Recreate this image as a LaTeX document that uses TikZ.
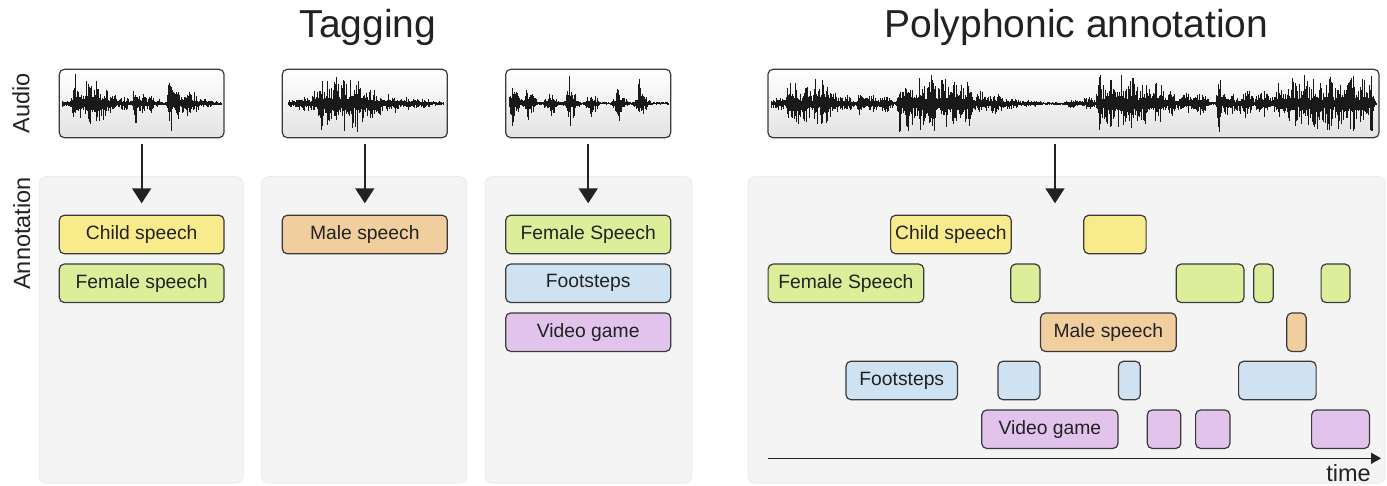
\documentclass[tikz,border=0pt]{standalone}
\usepackage{fontspec}
\setmainfont{Liberation Sans}
\usetikzlibrary{arrows.meta}
\definecolor{txt}{HTML}{222222}
\definecolor{bord}{HTML}{3A3A3A}
\definecolor{panelc}{HTML}{F4F4F4}
\definecolor{panelb}{HTML}{ECECEC}
\definecolor{cy}{HTML}{F7EB8C}
\definecolor{cg}{HTML}{DDEE9B}
\definecolor{co}{HTML}{F1CE9E}
\definecolor{cb}{HTML}{CFE2F2}
\definecolor{cp}{HTML}{E1C3EC}
\tikzset{
  panel/.style={fill=panelc, draw=panelb, line width=1pt, rounded corners=7pt, inner sep=0pt},
  wbox/.style={draw=bord, line width=1.2pt, rounded corners=5pt, top color=white, bottom color=black!11, inner sep=0pt, minimum height=68.4pt},
  lab/.style={draw=bord, line width=1.2pt, rounded corners=5pt, inner sep=0pt, minimum height=38.5pt, text=txt, font=\fontsize{19.3}{22}\selectfont},
  arr/.style={draw=txt, line width=1.7pt, -{Triangle[width=19pt,length=15pt]}},
  axisarr/.style={draw=txt, line width=1.5pt, -{Triangle[width=11pt,length=10pt]}},
  wav/.style={draw=black!90, line width=0.9pt},
  ttl/.style={text=txt, font=\fontsize{39}{42}\selectfont, inner sep=0pt},
  side/.style={text=txt, font=\fontsize{23.5}{26}\selectfont, inner sep=0pt, rotate=90},
}
\newcommand\mywave[5]{%
  \pgfmathsetseed{#4}%
  \foreach \xx in {#1,...,#2}{%
    \gdef\envv{1.0}%
    \foreach \cc/\aa/\ww in {#5}{%
      \pgfmathparse{max(\envv,\aa*exp(0-pow(min(abs((\xx-\cc)/(1.3*\ww)),7),2)))}%
      \xdef\envv{\pgfmathresult}}%
    \pgfmathsetmacro\ra{rnd}\pgfmathsetmacro\rb{rnd}%
    \pgfmathsetmacro\up{min(29,1.15*\envv*(0.2+0.8*\ra*sqrt(\ra))+0.5)}%
    \pgfmathsetmacro\dn{min(29,1.15*\envv*(0.2+0.8*\rb*sqrt(\rb))+0.5)}%
    \draw[wav] (\xx,#3-\up) -- (\xx,#3+\dn);
  }}
\begin{document}
\begin{tikzpicture}[x=1pt,y=-1pt]
\useasboundingbox (0,0) rectangle (1387,486);
% titles
\node[ttl, anchor=base] (t1) at (368,37.5) {Tagging};
\node[ttl, anchor=base] (t2) at (1076.5,37.5) {Polyphonic annotation};
\node[side] (sa) at (21,103) {Audio};
\node[side] (sb) at (21.7,233.5) {Annotation};
% panels
\node[panel, minimum width=203.7pt, minimum height=306.3pt] (p1) at (141.15,329.85) {};
\node[panel, minimum width=205pt, minimum height=306.3pt] (p2) at (364.2,329.85) {};
\node[panel, minimum width=206.7pt, minimum height=306.3pt] (p3) at (588.35,329.85) {};
\node[panel, minimum width=637pt, minimum height=306.3pt] (p4) at (1066.5,329.85) {};
% wave boxes
\node[wbox, minimum width=164.7pt] (w1) at (141.65,103.5) {};
\node[wbox, minimum width=165pt] (w2) at (364.8,103.5) {};
\node[wbox, minimum width=165pt] (w3) at (588.2,103.5) {};
\node[wbox, minimum width=611pt] (w4) at (1073.5,103.5) {};
% waveforms
\mywave{62}{221}{103.5}{11}{66/3/8, 75/27/2.5, 80/22/2, 88/26/4, 96/25/3.5, 104/18/4, 112/13/3, 123/6/6, 135/24/2, 142/11/4, 150/8/4, 157/6/2, 170/30/2, 176/17/4, 186/14/5, 194/10/4, 205/4/8, 215/2/6}
\mywave{288}{443}{103.5}{23}{292/3/8, 305/7/8, 316/12/5, 321/28/2, 328/22/4, 336/25/4, 344/24/4, 351/26/4, 357/28/3, 364/20/4, 372/14/4, 380/10/4, 388/8/5, 395/9/3, 405/6/6, 415/5/6, 425/4/6, 435/2/6}
\mywave{509}{668}{103.5}{37}{512/28/1.5, 514/12/5, 527/24/1.5, 529/11/5, 550/18/1.5, 551/11/5, 569/30/1.5, 571/13/5, 591/16/1.5, 592/9/5, 618/20/1.5, 619/11/5, 639/24/1.5, 641/12/5}
\mywave{771}{1376}{103.5}{5}{778/6/8, 790/24/3, 796/20/4, 806/18/5, 816/25/3, 822/20/4, 827/25/3, 833/12/4, 845/8/6, 860/22/2, 870/9/6, 885/8/6, 899/30/2, 908/24/6, 920/24/6, 932/26/6, 944/24/6, 956/25/6, 968/20/6, 980/12/6, 995/9/8, 1010/5/8, 1030/3/10, 1072/4/6, 1088/6/6, 1099/30/2, 1108/25/6, 1120/26/6, 1132/24/6, 1144/24/6, 1158/20/6, 1170/12/5, 1185/9/8, 1200/10/6, 1219/28/2, 1228/12/6, 1245/12/8, 1262/13/6, 1280/20/6, 1292/23/6, 1304/25/6, 1316/24/6, 1328/25/6, 1340/24/6, 1352/25/6, 1364/24/5, 1371/30/2}
% arrows
\coordinate (e1) at (141.65,203.3);
\coordinate (e2) at (364.8,203.3);
\coordinate (e3) at (588.2,203.3);
\coordinate (e4) at (1055,203.3);
\draw[arr] ([yshift=-6pt]w1.south) -- (e1);
\draw[arr] ([yshift=-6pt]w2.south) -- (e2);
\draw[arr] ([yshift=-6pt]w3.south) -- (e3);
\draw[arr] ([yshift=-6pt]w4.south -| e4) -- (e4);
% tagging labels
\node[lab, fill=cy, minimum width=164.7pt] (l1a) at (141.65,234.5) {Child speech};
\node[lab, fill=cg, minimum width=164.7pt] (l1b) at (141.65,283.3) {Female speech};
\node[lab, fill=co, minimum width=165pt] (l2a) at (364.8,234.5) {Male speech};
\node[lab, fill=cg, minimum width=165pt] (l3a) at (588.2,234.5) {Female Speech};
\node[lab, fill=cb, minimum width=165pt] (l3b) at (588.2,283.3) {Footsteps};
\node[lab, fill=cp, minimum width=165pt] (l3c) at (588.2,332.2) {Video game};
% polyphonic
\node[lab, fill=cy, minimum width=120.6pt] (r1a) at (950.9,234.5) {Child speech};
\node[lab, fill=cy, minimum width=62.3pt] (r1b) at (1114.95,234.5) {};
\node[lab, fill=cg, minimum width=155.6pt] (r2a) at (845.9,283.3) {Female Speech};
\node[lab, fill=cg, minimum width=29.3pt] (r2b) at (1025.35,283.3) {};
\node[lab, fill=cg, minimum width=67.7pt] (r2c) at (1210.05,283.3) {};
\node[lab, fill=cg, minimum width=19.4pt] (r2d) at (1263.5,283.3) {};
\node[lab, fill=cg, minimum width=28.9pt] (r2e) at (1335.55,283.3) {};
\node[lab, fill=co, minimum width=135.7pt] (r3a) at (1108.35,332.2) {Male speech};
\node[lab, fill=co, minimum width=19.4pt] (r3b) at (1296.5,332.2) {};
\node[lab, fill=cb, minimum width=111.5pt] (r4a) at (901.75,380.5) {Footsteps};
\node[lab, fill=cb, minimum width=42pt] (r4b) at (1019,380.5) {};
\node[lab, fill=cb, minimum width=21.8pt] (r4c) at (1129.4,380.5) {};
\node[lab, fill=cb, minimum width=77.5pt] (r4d) at (1277.35,380.5) {};
\node[lab, fill=cp, minimum width=136.2pt] (r5a) at (1049.9,429.2) {Video game};
\node[lab, fill=cp, minimum width=33.5pt] (r5b) at (1164.05,429.2) {};
\node[lab, fill=cp, minimum width=34.3pt] (r5c) at (1212.75,429.2) {};
\node[lab, fill=cp, minimum width=57.8pt] (r5d) at (1340.5,429.2) {};
% time axis
\coordinate (ta) at (768,458.3);
\coordinate (tb) at (1381,458.3);
\draw[axisarr] (ta) -- (tb);
\node[text=txt, font=\fontsize{23.5}{26}\selectfont, inner sep=0pt, anchor=base east] (tl) at (1371,481) {time};
\end{tikzpicture}
\end{document}
